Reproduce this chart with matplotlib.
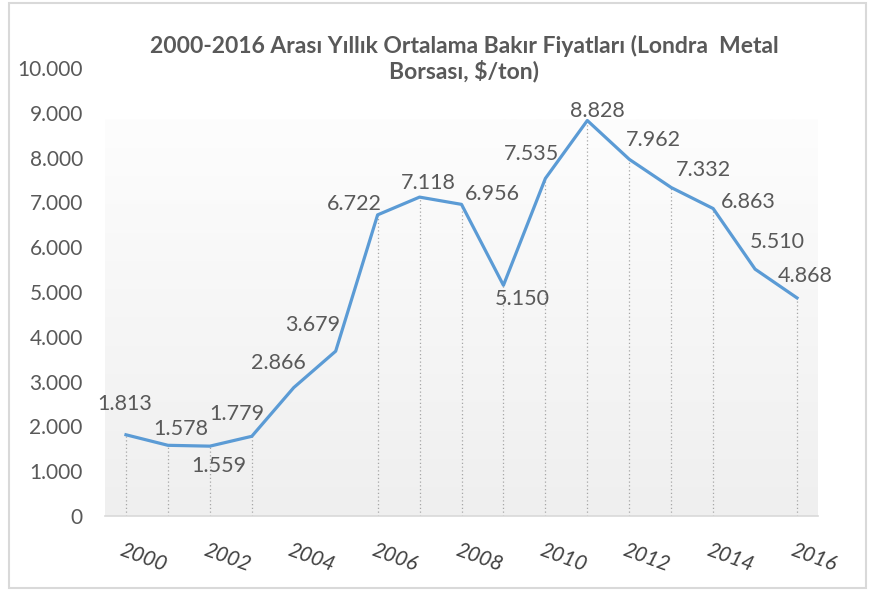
import numpy as np
import matplotlib.pyplot as plt
from matplotlib.colors import LinearSegmentedColormap
from matplotlib.patches import Rectangle
import matplotlib.transforms as mtransforms

plt.rcParams['font.family'] = ['Lato', 'DejaVu Sans']

# Yearly average copper price, LME ($/ton)
years = [2000, 2001, 2002, 2003, 2004, 2005, 2006, 2007, 2008,
         2009, 2010, 2011, 2012, 2013, 2014, 2015, 2016]
prices = [1813, 1578, 1559, 1779, 2866, 3679, 6722, 7118, 6956,
          5150, 7535, 8828, 7962, 7332, 6863, 5510, 4868]
tick_years = [2000, 2002, 2004, 2006, 2008, 2010, 2012, 2014, 2016]
y_ticks = [0, 1000, 2000, 3000, 4000, 5000, 6000, 7000, 8000, 9000, 10000]
# drop lines are not visible for every year in the original
has_drop = [True, True, True, True, False, False, True, True, True,
            True, True, True, True, True, True, False, True]

# label offsets in pixels (dx, dy), dy positive = up
label_off = [(-1, 31), (13, 16), (9, -20), (-15, 22), (-15, 25), (-23, 26),
             (-23, 11), (9, 14), (31, 10), (19, -14), (-14, 24), (10, 10),
             (24, 19), (32, 18), (35, 7), (22, 27), (8, 22)]

grey = '#595959'


def tr(v):
    return f"{v:,}".replace(',', '.')


fig = plt.figure(figsize=(8.69, 5.90), dpi=100)
ax = fig.add_axes([105/869, 74/590, 713/869, 448/590])

# gradient plot area background
cmap = LinearSegmentedColormap.from_list('bg', ['#fdfdfd', '#efefef'])
grad = np.linspace(0, 1, 256).reshape(-1, 1)
ax.imshow(grad, cmap=cmap, aspect='auto', extent=[1999.5, 2016.5, 0, 8850],
          origin='upper', zorder=0)

drop_x = [y for y, d in zip(years, has_drop) if d]
drop_v = [p for p, d in zip(prices, has_drop) if d]
ax.vlines(drop_x, 0, drop_v, colors='#a6a6a6', linestyles=(0, (1, 2)), lw=0.9, zorder=1)

ax.plot(years, prices, color='#5b9bd5', lw=2.3, solid_joinstyle='round', zorder=3)

for yr, p, (dx, dy) in zip(years, prices, label_off):
    ax.annotate(tr(p), (yr, p), xytext=(dx, dy), textcoords='offset pixels',
                ha='center', va='center', fontsize=15.5, color=grey, zorder=4)

ax.set_xlim(1999.5, 2016.5)
ax.set_ylim(0, 10000)
ax.set_yticks(y_ticks)
ax.set_yticklabels([tr(v) for v in y_ticks], fontsize=15, color=grey)
ax.tick_params(axis='y', length=0, pad=16)
ax.set_xticks([])
for s in ['top', 'right', 'left']:
    ax.spines[s].set_visible(False)
ax.spines['bottom'].set_color('#d9d9d9')
ax.spines['bottom'].set_linewidth(1.2)
ax.set_facecolor('none')

# rotated year labels under the axis
trans = mtransforms.blended_transform_factory(ax.transData, ax.transAxes)
off = mtransforms.ScaledTranslation(-2/100, -24/100, fig.dpi_scale_trans)
for yr in tick_years:
    ax.text(yr, 0, str(yr), transform=trans + off, ha='left', va='top',
            rotation=-20, rotation_mode='anchor', fontsize=15,
            style='italic', color='#404040')

fig.text(464/869, 1 - 59/590,
         '2000-2016 Arası Yıllık Ortalama Bakır Fiyatları (Londra  Metal\nBorsası, $/ton)',
         ha='center', va='center', fontsize=16.5, fontweight='bold',
         color=grey, linespacing=1.15)

fig.patches.append(Rectangle((9/869, 2/590), 857/869, 585/590, transform=fig.transFigure,
                             fill=False, edgecolor='#d9d9d9', lw=1.5))

fig.savefig('out.png', dpi=100)
